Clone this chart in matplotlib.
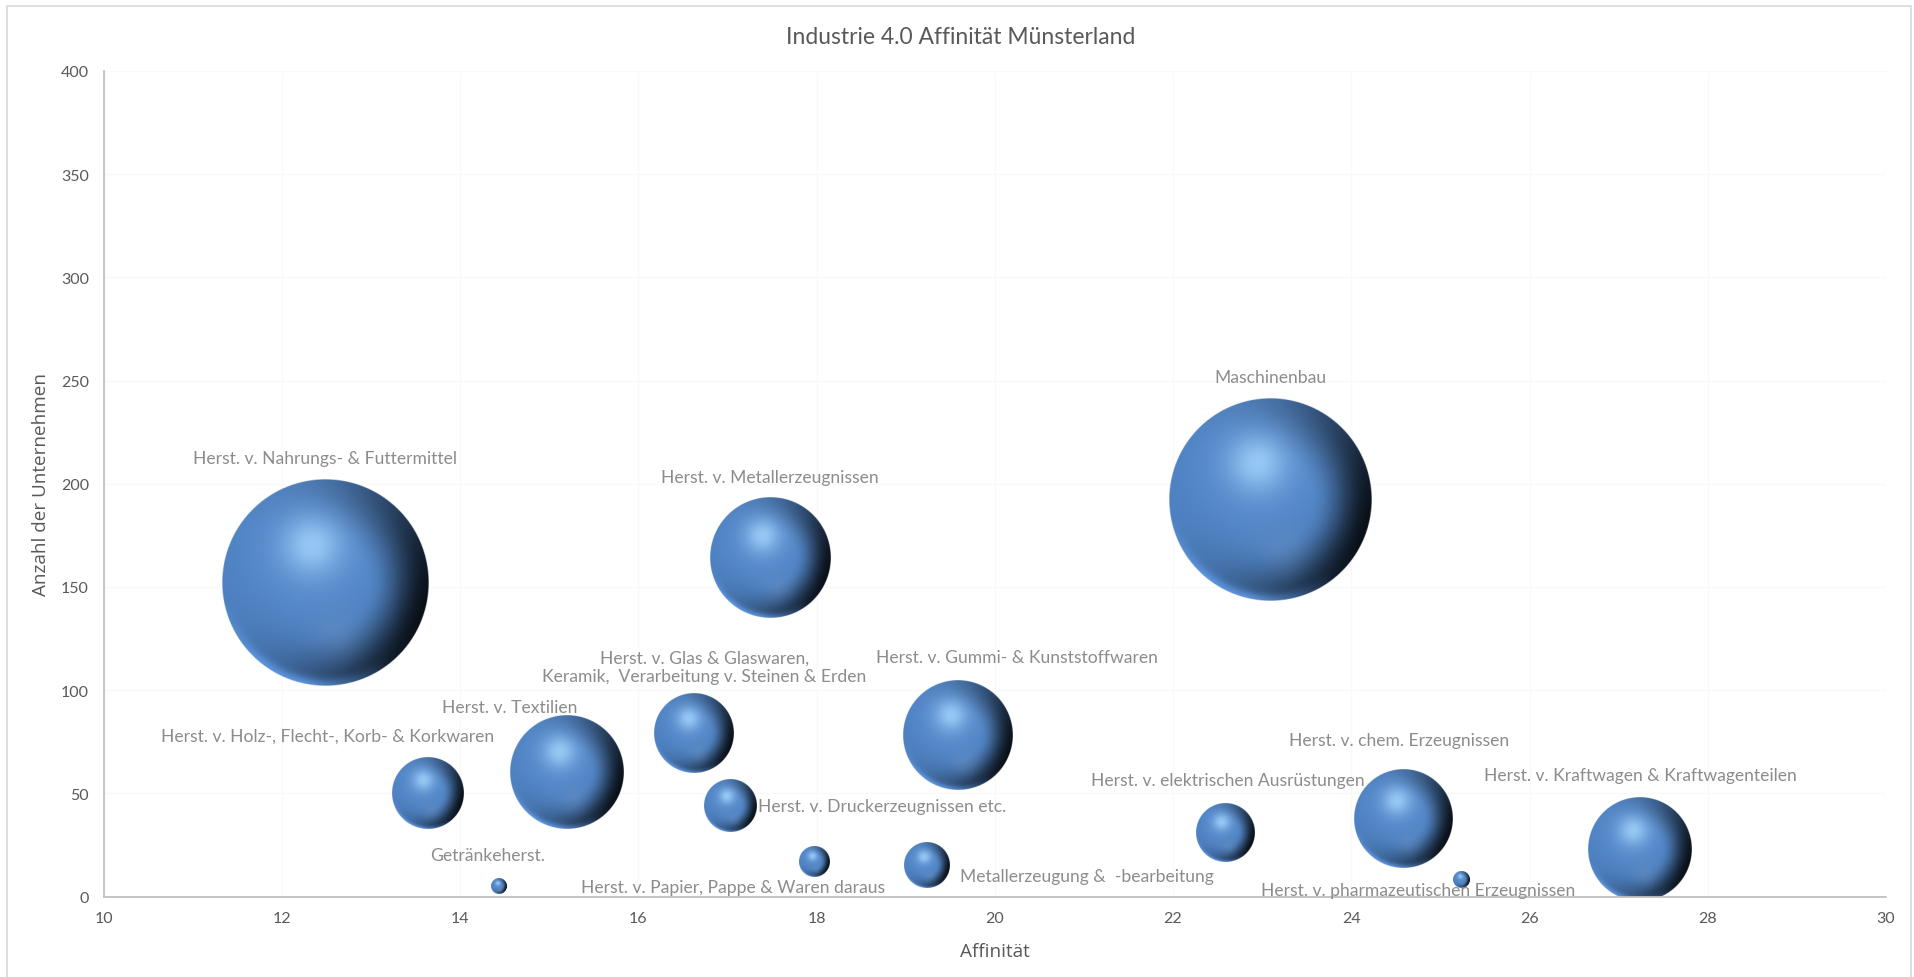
import numpy as np
import matplotlib
matplotlib.use("Agg")
import matplotlib.pyplot as plt
from matplotlib.patches import Rectangle

# Branchen im Münsterland: Affinität, Anzahl der Unternehmen, Blasengröße
branchen = [
    "Herst. v. Nahrungs- & Futtermittel",
    "Maschinenbau",
    "Herst. v. Metallerzeugnissen",
    "Herst. v. Textilien",
    "Herst. v. Gummi- & Kunststoffwaren",
    "Herst. v. Kraftwagen & Kraftwagenteilen",
    "Herst. v. chem. Erzeugnissen",
    "Herst. v. Glas & Glaswaren,\nKeramik,  Verarbeitung v. Steinen & Erden",
    "Herst. v. Holz-, Flecht-, Korb- & Korkwaren",
    "Herst. v. elektrischen Ausrüstungen",
    "Herst. v. Druckerzeugnissen etc.",
    "Metallerzeugung &  -bearbeitung",
    "Herst. v. Papier, Pappe & Waren daraus",
    "Getränkeherst.",
    "Herst. v. pharmazeutischen Erzeugnissen",
]
affinitaet = [12.49, 23.09, 17.48, 15.19, 19.58, 27.23, 24.58, 16.63, 13.64, 22.58, 17.03, 19.23, 17.98, 14.44, 25.23]
unternehmen = [152, 192, 164, 60, 78, 23, 38, 79, 50, 31, 44, 15, 17, 5, 8]
groesse = [100, 96, 34, 30, 28, 25, 23, 15, 12, 8, 6.4, 4.8, 2.2, 0.6, 0.66]

# Beschriftung: Versatz zum Blasenmittelpunkt in Pixeln und Ausrichtung
label_dx = [0, 0, 0, -56, 60, 1, -4, 10, -100, 3, 28, 34, -82, -12, -43]
label_dy = [125, 123, 81, 66, 79, 74, 78, 67, 58, 53, 0, -10, -26, 31, -10]
label_ha = ["center"] * 10 + ["left", "left", "center", "center", "center"]


def smooth(a, b, x):
    s = np.clip((x - a) / (b - a), 0, 1)
    return s * s * (3 - 2 * s)


def kugel(n=301):
    # schattierte Kugel als RGBA-Bild (Licht von links oben)
    t = np.linspace(-1, 1, n)
    u, v = np.meshgrid(t, t)
    rho = np.sqrt(u ** 2 + v ** 2)
    theta = np.arctan2(v, u)
    base = np.array([0.30, 0.50, 0.75])
    img = np.ones((n, n, 3)) * base

    # dunkler Rand rechts, nach unten auslaufend
    w = ((1 + np.cos(theta - 0.3)) / 2) ** 1.6
    dunkel = 0.88 * w * smooth(0.4, 1.0, rho)
    img = img * (1 - dunkel)[..., None]

    g = np.exp(-((u - 0.12) ** 2 + (v - 0.5) ** 2) / (2 * 0.16 ** 2))
    img = img + (np.array([0.42, 0.56, 0.74]) - img) * (0.3 * g)[..., None]

    # heller Reflex am unteren Rand
    rim = np.exp(-((1 - rho) / 0.07) ** 2)
    wr = np.clip((v - 0.15) / 0.6, 0, 1) * np.clip((0.6 - u) / 0.8, 0, 1)
    img = img + (np.array([0.38, 0.60, 0.90]) - img) * (0.85 * rim * wr)[..., None]

    h2 = np.exp(-((u + 0.13) ** 2 + (v + 0.36) ** 2) / (2 * 0.45 ** 2))
    img = img + 0.08 * h2[..., None]
    h = np.exp(-((u + 0.13) ** 2 + (v + 0.36) ** 2) / (2 * 0.19 ** 2))
    img = img + (np.array([0.66, 0.85, 1.0]) - img) * (0.75 * h)[..., None]

    alpha = np.clip((1 - rho) * n / 2 + 0.5, 0, 1)
    return np.dstack([np.clip(img, 0, 1), alpha])


fig = plt.figure(figsize=(19.14, 9.78), dpi=100)
ax = fig.add_axes([0.0541, 0.0823, 0.9313, 0.8441])

xmin, xmax, ymin, ymax = 10, 30, 0, 400
ax.set_xlim(xmin, xmax)
ax.set_ylim(ymin, ymax)

# Rahmen um das Diagramm
fig.patches.append(Rectangle((7 / 1914, -0.01), 1904 / 1914, 0.01 + 971 / 978,
                             transform=fig.transFigure, fill=False,
                             edgecolor="#d9d9d9", lw=1.2))

px_x = ax.bbox.width / (xmax - xmin)
px_y = ax.bbox.height / (ymax - ymin)
dmax = 0.25 * min(ax.bbox.width, ax.bbox.height)
smax = max(groesse)

bild = kugel()
for i, name in enumerate(branchen):
    r = 0.5 * dmax * np.sqrt(groesse[i] / smax)
    x, y = affinitaet[i], unternehmen[i]
    ax.imshow(bild, extent=(x - r / px_x, x + r / px_x, y - r / px_y, y + r / px_y),
              aspect="auto", zorder=3, interpolation="antialiased")
    ax.annotate(name, (x, y), xytext=(label_dx[i], label_dy[i]),
                textcoords="offset pixels", ha=label_ha[i], va="center",
                multialignment="center", fontsize=12.6, family="Lato",
                color="#8c8c8c", zorder=5)

ax.set_xlim(xmin, xmax)
ax.set_ylim(ymin, ymax)
ax.set_xticks(np.arange(10, 31, 2))
ax.set_yticks(np.arange(0, 401, 50))
ax.grid(True, color="#f9f9f9", lw=1)
ax.set_axisbelow(True)
for side in ["top", "right"]:
    ax.spines[side].set_visible(False)
for side in ["left", "bottom"]:
    ax.spines[side].set_color("#c0c0c0")
    ax.spines[side].set_linewidth(1.3)
    ax.spines[side].set_zorder(4)
ax.tick_params(length=0, labelsize=11.5, labelcolor="#595959", pad=10.5)
for lab in ax.get_xticklabels() + ax.get_yticklabels():
    lab.set_family("Lato")

# Titel über die ganze Diagrammfläche zentriert
fig.text(961 / 1914, 1 - 37 / 978, "Industrie 4.0 Affinität Münsterland",
         fontsize=16.5, family="Lato", color="#595959", ha="center", va="center")
ax.set_xlabel("Affinität", fontsize=13.6, family="Open Sans", color="#595959", labelpad=12)
ax.set_ylabel("Anzahl der Unternehmen", fontsize=13.6, family="Open Sans",
              color="#595959", labelpad=8)

fig.savefig("out.png", dpi=100, facecolor="white")
